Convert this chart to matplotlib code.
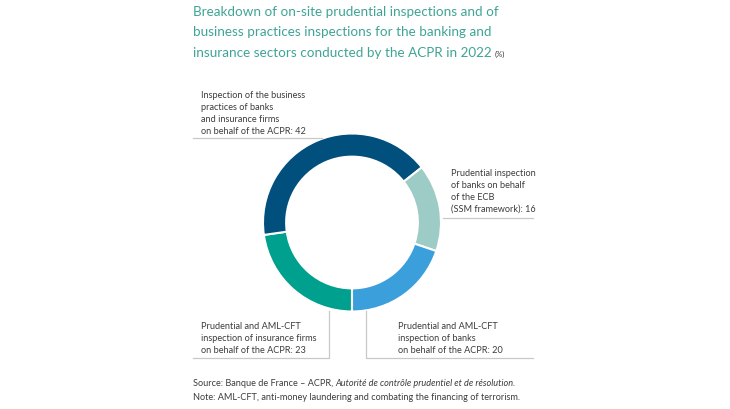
import matplotlib.pyplot as plt

# Data (order: clockwise starting from the bottom of the ring)
categories = [
    "Prudential and AML-CFT\ninspection of insurance firms\non behalf of the ACPR",
    "Inspection of the business\npractices of banks\nand insurance firms\non behalf of the ACPR",
    "Prudential inspection\nof banks on behalf\nof the ECB\n(SSM framework)",
    "Prudential and AML-CFT\ninspection of banks\non behalf of the ACPR",
]
values = [23, 42, 16, 20]
colors = ["#00a08e", "#004f7c", "#9dcbc5", "#3a9fdb"]

title_lines = [
    "Breakdown of on-site prudential inspections and of",
    "business practices inspections for the banking and",
    "insurance sectors conducted by the ACPR in 2022",
]
unit = "(%)"
source_pre = "Source: Banque de France \u2013 ACPR, "
source_it = "Autorité de contrôle prudentiel et de résolution."
note = "Note: AML-CFT, anti-money laundering and combating the financing of terrorism."

W, H = 730, 410
FONT = "Lato"
TXT = "#3c3c3c"
LINE = "#c8c8c8"
TEAL = "#3fa496"

fig = plt.figure(figsize=(W / 100, H / 100), dpi=100)
ax = fig.add_axes([0, 0, 1, 1])

def Y(y):
    # pixel y from top -> data y
    return H - y

cx, cy, r = 352, 223.5, 89
ax.pie(values, colors=colors, startangle=270, counterclock=False,
       center=(cx, Y(cy)), radius=r,
       wedgeprops=dict(width=r * 0.26, edgecolor="white", linewidth=1.5))
ax.set_xlim(0, W)
ax.set_ylim(0, H)
ax.set_aspect("equal")
ax.axis("off")

labels = [f"{c}: {v}" for c, v in zip(categories, values)]
lab_kw = dict(fontsize=6.6, color=TXT, family=FONT, linespacing=1.45, va="bottom", ha="left")

# bottom-left label
ax.text(201, Y(355), labels[0], **lab_kw)
ax.plot([193, 329, 329], [Y(359), Y(359), Y(312)], color=LINE, lw=0.9)
# top-left label
ax.text(201, Y(136), labels[1], **lab_kw)
ax.plot([193, 322], [Y(139), Y(139)], color=LINE, lw=0.9)
# right label
ax.text(451, Y(214), labels[2], **lab_kw)
ax.plot([443, 533], [Y(219), Y(219)], color=LINE, lw=0.9)
# bottom-right label
ax.text(398, Y(355), labels[3], **lab_kw)
ax.plot([533, 366, 366], [Y(359), Y(359), Y(312)], color=LINE, lw=0.9)

# title
fig.canvas.draw()
rend = fig.canvas.get_renderer()
last = None
for i, line in enumerate(title_lines):
    last = ax.text(193, Y(12 + 20.5 * i), line, fontsize=9.7, color=TEAL,
                   family=FONT, va="center", ha="left")
bb = last.get_window_extent(renderer=rend)
ax.text(bb.x1 + 3, Y(54), unit, fontsize=5.5, color=TXT, family=FONT,
        va="center", ha="left")

# footnotes
foot_kw = dict(fontsize=6.6, color=TXT, family=FONT, va="center", ha="left")
t = ax.text(193, Y(384), source_pre, **foot_kw)
bb = t.get_window_extent(renderer=rend)
ax.text(bb.x1, Y(384), source_it, style="italic", **foot_kw)
ax.text(193, Y(398), note, **foot_kw)

fig.savefig("out.png", dpi=100)
